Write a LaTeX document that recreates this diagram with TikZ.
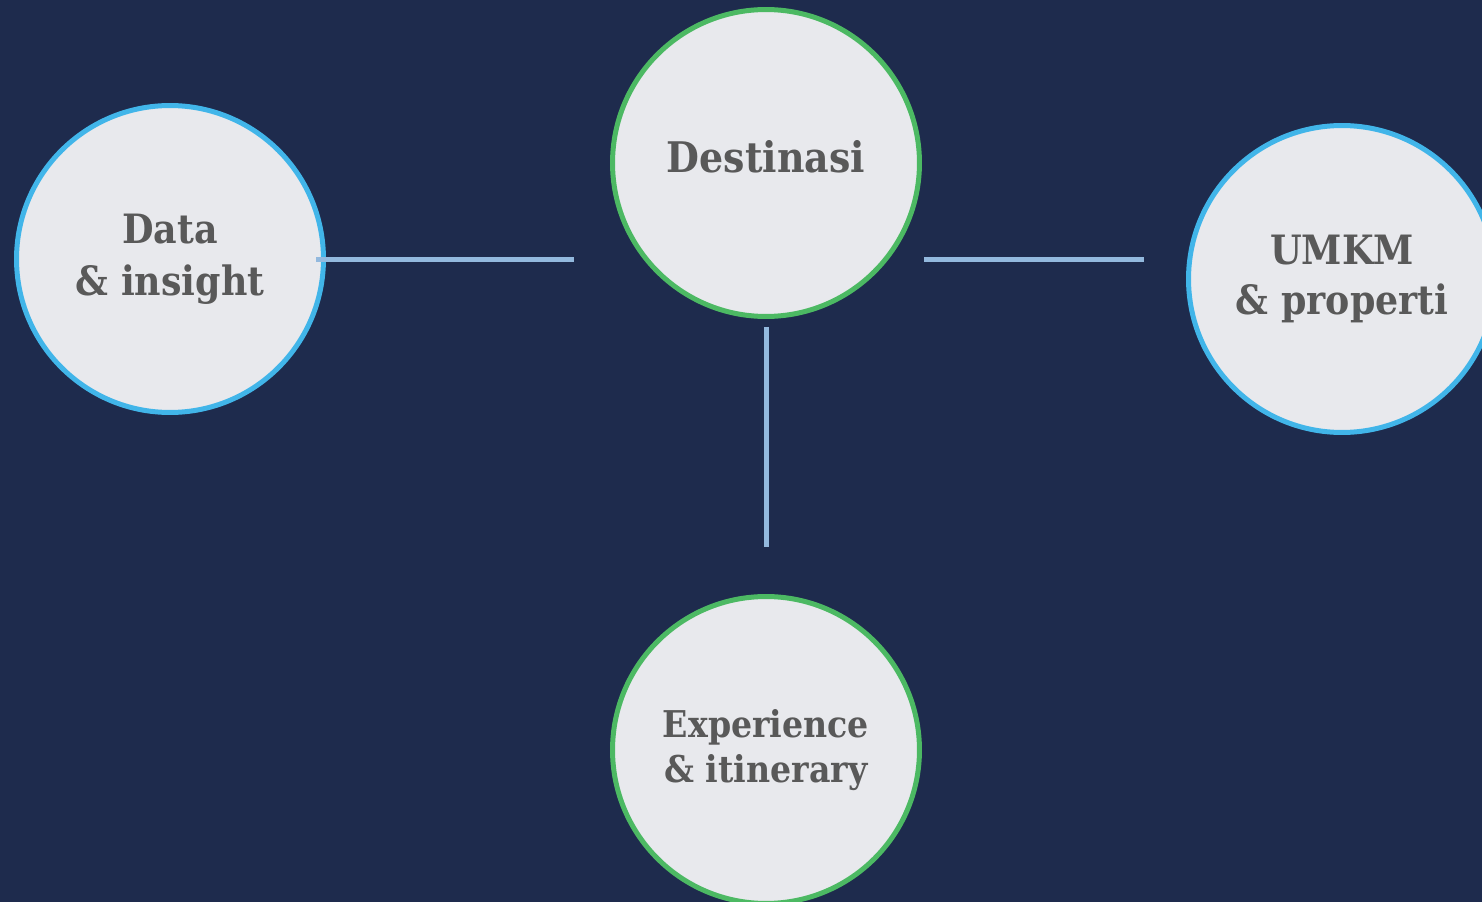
\documentclass[tikz,border=0pt]{standalone}
\usepackage{fontspec}
\setmainfont{DejaVu Serif}[FakeStretch=0.9]
\definecolor{navybg}{HTML}{1E2B4D}
\definecolor{discfill}{HTML}{E8E9ED}
\definecolor{ringgreen}{HTML}{4CB963}
\definecolor{ringblue}{HTML}{41B5E9}
\definecolor{labelgray}{HTML}{595959}
\definecolor{linkblue}{HTML}{93B9DE}
\begin{document}
\begin{tikzpicture}[x=0.02cm,y=-0.02cm,
    disc/.style={circle,fill=discfill,line width=0.1cm,minimum size=6.14cm,
        inner sep=0pt,align=center,text=labelgray,font=\bfseries},
    greendisc/.style={disc,draw=ringgreen},
    bluedisc/.style={disc,draw=ringblue},
    link/.style={draw=linkblue,line width=0.1cm}]
    \useasboundingbox (0,0) rectangle (1482,902);
    \clip (0,0) rectangle (1482,902);
    \fill[navybg] (0,0) rectangle (1482,902);

    \node[greendisc,font=\bfseries\fontsize{24}{29}\selectfont,text depth=0.26cm] (dest) at (766,163) {Destinasi};
    \node[bluedisc,font=\bfseries\fontsize{23}{29.6}\selectfont] (data) at (170,259) {Data\\\& insight};
    \node[bluedisc,font=\bfseries\fontsize{23}{28.5}\selectfont] (umkm) at (1342,279) {UMKM\\\& properti};
    \node[greendisc,font=\bfseries\fontsize{21}{25.6}\selectfont] (exp) at (766,750) {Experience\\\& itinerary};

    % connectors
    \coordinate (datastart) at (316,260);
    \coordinate (dataend) at (574,260);
    \coordinate (umkmstart) at (924,260);
    \coordinate (umkmend) at (1144,260);
    \coordinate (expstart) at (766,327);
    \coordinate (expend) at (766,547);
    \draw[link] (datastart) -- (dataend);
    \draw[link] (umkmstart) -- (umkmend);
    \draw[link] (expstart) -- (expend);
\end{tikzpicture}
\end{document}
